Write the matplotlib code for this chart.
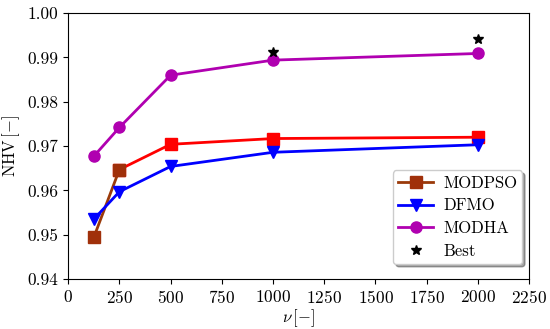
import matplotlib
matplotlib.use("Agg")
import matplotlib.pyplot as plt

plt.rcParams["font.family"] = "cmr10"
plt.rcParams["mathtext.fontset"] = "cm"
plt.rcParams["axes.formatter.use_mathtext"] = True
plt.rcParams["font.size"] = 11.5
plt.rcParams["xtick.labelsize"] = 12.5
plt.rcParams["ytick.labelsize"] = 12.5

# okunan degerler
nu = [125, 250, 500, 1000, 2000]
modpso_ilk = [0.9494, 0.9647]          # kahverengi parca
modpso = [0.9647, 0.9704, 0.9717, 0.9720]  # kirmizi parca (250..2000)
dfmo = [0.9535, 0.9597, 0.9654, 0.9686, 0.9703]
modha = [0.9677, 0.9742, 0.9860, 0.9894, 0.9909]
best_nu = [1000, 2000]
best = [0.9912, 0.9942]

fig = plt.figure(figsize=(5.5, 3.29), dpi=100)
ax = fig.add_axes([0.124, 0.152, 0.838, 0.808])

ax.plot(nu[1:], modpso, color="red", marker="s", markersize=8, linewidth=2)
ax.plot(nu[:2], modpso_ilk, color="#9a3a0a", marker="s", markersize=8,
        linewidth=2, markerfacecolor="#a0300a", markeredgecolor="#a0300a",
        label="MODPSO")
ax.plot(nu, dfmo, color="blue", marker="v", markersize=8, linewidth=2, label="DFMO")
ax.plot(nu, modha, color="#b000b0", marker="o", markersize=8, linewidth=2, label="MODHA")
ax.plot(best_nu, best, "k*", markersize=7, linestyle="none", label="Best")

ax.set_xlim(0, 2250)
ax.set_ylim(0.94, 1.00)
ax.set_xticks(range(0, 2251, 250))
ax.set_yticks([0.94, 0.95, 0.96, 0.97, 0.98, 0.99, 1.00])
ax.set_yticklabels(["0.94", "0.95", "0.96", "0.97", "0.98", "0.99", "1.00"])
ax.set_xlabel(r"$\nu\,[-]$", labelpad=1, fontsize=12)
ax.set_ylabel(r"NHV$\,[-]$", fontsize=12)

leg = ax.legend(loc="lower right", shadow=True, fancybox=True, framealpha=1,
                fontsize=12, handlelength=2.1, handletextpad=0.6,
                borderpad=0.3, labelspacing=0.45, bbox_to_anchor=(1.003, 0.025))

fig.savefig("out.png", dpi=100)
